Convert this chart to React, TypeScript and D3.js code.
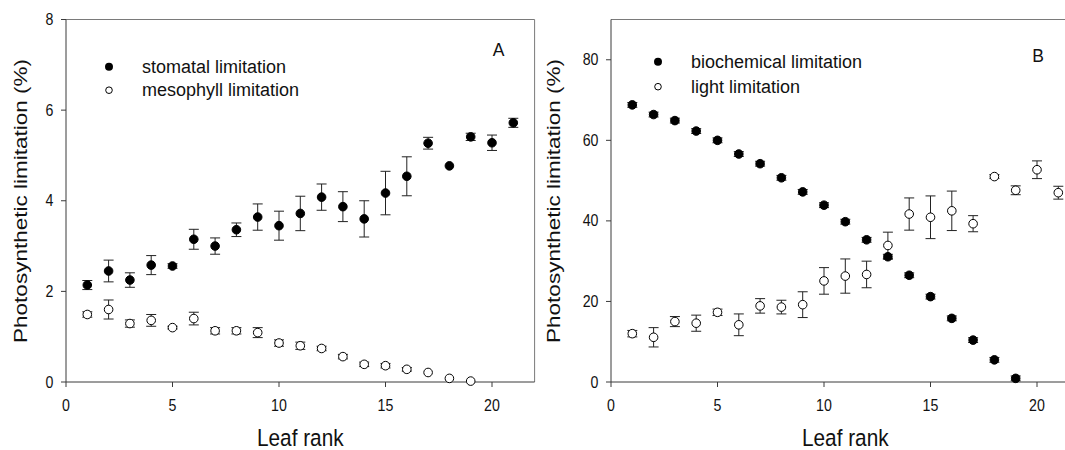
import React from "react";
import * as d3 from "d3";

// ---- Data ----
const ranksA = d3.range(1, 22);
const stomatal = [2.14, 2.45, 2.25, 2.58, 2.56, 3.15, 3.0, 3.36, 3.64, 3.45, 3.72, 4.08, 3.87, 3.6, 4.17, 4.54, 5.27, 4.77, 5.41, 5.28, 5.72];
const stomatalErr = [0.1, 0.24, 0.16, 0.21, 0.05, 0.22, 0.18, 0.15, 0.29, 0.32, 0.38, 0.29, 0.33, 0.4, 0.48, 0.43, 0.13, 0, 0.08, 0.17, 0.1];
const mesophyll = [1.49, 1.6, 1.29, 1.36, 1.2, 1.4, 1.13, 1.13, 1.09, 0.86, 0.8, 0.74, 0.56, 0.39, 0.36, 0.28, 0.21, 0.08, 0.02];
const mesophyllErr = [0.06, 0.21, 0.08, 0.13, 0.03, 0.14, 0.07, 0.07, 0.11, 0.07, 0.08, 0.05, 0.05, 0.05, 0.05, 0.04, 0, 0, 0];

const biochemical = [68.8, 66.4, 64.9, 62.3, 60.0, 56.6, 54.2, 50.7, 47.2, 43.9, 39.8, 35.3, 31.1, 26.5, 21.2, 15.8, 10.4, 5.5, 0.9];
const biochemicalErr = [0.6, 0.6, 0.6, 0.6, 0.6, 0.6, 0.6, 0.6, 0.6, 0.6, 0.6, 0.6, 0.6, 0.6, 0.6, 0.6, 0.6, 0.6, 0.6];
const light = [12.0, 11.1, 15.0, 14.6, 17.3, 14.2, 18.9, 18.6, 19.2, 25.1, 26.3, 26.7, 33.9, 41.7, 40.9, 42.5, 39.3, 51.0, 47.6, 52.7, 47.0];
const lightErr = [0.8, 2.4, 1.25, 2.0, 0.8, 2.7, 1.8, 1.7, 3.2, 3.3, 4.25, 3.3, 3.3, 4.0, 5.3, 4.9, 2.0, 0.5, 1.1, 2.2, 1.6];

const xTicks = [0, 5, 10, 15, 20];
const yTicksA = [0, 2, 4, 6, 8];
const yTicksB = [0, 20, 40, 60, 80];

const FONT = "Arial, 'Liberation Sans', sans-serif";
const AXIS = "#3a3a3a";
const FRAME = "#7a7a7a";

type Series = { values: number[]; errs: number[]; filled: boolean };

function Panel(props: {
  left: number;
  right: number;
  yMax: number;
  yTicks: number[];
  series: Series[];
  legend: string[];
  legendX: number;
  legendY: number;
  legendDy: number;
  letter: string;
  letterX: number;
  letterY: number;
  titleX: number;
}) {
  const top = 19.5;
  const bottom = 382;
  const x = d3.scaleLinear().domain([0, 22]).range([props.left, props.right]);
  const y = d3.scaleLinear().domain([0, props.yMax]).range([bottom, top]);
  const cap = 5;
  const r = 4.3;
  return (
    <g fontFamily={FONT}>
      {/* frame top & right */}
      <line x1={props.left} x2={props.right} y1={top} y2={top} stroke={FRAME} strokeWidth={1} />
      <line x1={props.right} x2={props.right} y1={top} y2={bottom} stroke={FRAME} strokeWidth={1} />
      {/* axes */}
      <line x1={props.left} x2={props.right} y1={bottom} y2={bottom} stroke={AXIS} strokeWidth={1} />
      <line x1={props.left} x2={props.left} y1={top} y2={bottom} stroke={AXIS} strokeWidth={1} />
      {xTicks.map((t) => (
        <g key={"xt" + t}>
          <line x1={x(t)} x2={x(t)} y1={bottom} y2={bottom + 5} stroke={AXIS} />
          <text
            transform={`translate(${x(t)},${411}) scale(1,1.1)`}
            textAnchor="middle"
            fontSize={14.2}
            fill="#111"
          >
            {t}
          </text>
        </g>
      ))}
      {props.yTicks.map((t) => (
        <g key={"yt" + t}>
          <line x1={props.left - 5} x2={props.left} y1={y(t)} y2={y(t)} stroke={AXIS} />
          <text
            transform={`translate(${props.left - 12.5},${y(t) + 5.5}) scale(1,1.1)`}
            textAnchor="end"
            fontSize={14.2}
            fill="#111"
          >
            {t}
          </text>
        </g>
      ))}
      <text
        transform={`translate(${(props.left + props.right) / 2},${446}) scale(1,1.12)`}
        textAnchor="middle"
        fontSize={20.8}
        fill="#111"
      >
        Leaf rank
      </text>
      <text
        transform={`translate(${props.titleX},${201}) rotate(-90) scale(1,0.85)`}
        textAnchor="middle"
        fontSize={22.5}
        fill="#111"
      >
        Photosynthetic limitation (%)
      </text>
      {/* error bars */}
      {props.series.map((s, si) =>
        s.values.map((v, i) => {
          const e = s.errs[i];
          if (!e) return null;
          const cx = x(i + 1);
          return (
            <g key={`e${si}-${i}`} stroke="#222" strokeWidth={1}>
              <line x1={cx} x2={cx} y1={y(v + e)} y2={y(v - e)} />
              <line x1={cx - cap} x2={cx + cap} y1={y(v + e)} y2={y(v + e)} />
              <line x1={cx - cap} x2={cx + cap} y1={y(v - e)} y2={y(v - e)} />
            </g>
          );
        })
      )}
      {/* markers */}
      {props.series.map((s, si) =>
        s.values.map((v, i) => (
          <circle
            key={`m${si}-${i}`}
            cx={x(i + 1)}
            cy={y(v)}
            r={r}
            fill={s.filled ? "#000" : "#fff"}
            stroke="#000"
            strokeWidth={1}
          />
        ))
      )}
      {/* legend */}
      <circle cx={props.legendX} cy={props.legendY} r={4} fill="#000" />
      <circle cx={props.legendX} cy={props.legendY + props.legendDy} r={3.3} fill="#fff" stroke="#000" strokeWidth={1} />
      <text x={props.legendX + 33} y={props.legendY + 6.2} fontSize={18} fill="#111">
        {props.legend[0]}
      </text>
      <text x={props.legendX + 33} y={props.legendY + props.legendDy + 6.2} fontSize={18} fill="#111">
        {props.legend[1]}
      </text>
      <text x={props.letterX} y={props.letterY} textAnchor="middle" fontSize={17.5} fill="#111">
        {props.letter}
      </text>
    </g>
  );
}

export default function App() {
  return (
    <svg
      width={1065}
      height={450}
      style={{ position: "absolute", left: 0, top: 0, background: "#fff" }}
    >
      <rect width={1065} height={450} fill="#fff" />
      <Panel
        left={66}
        right={534.6}
        yMax={8}
        yTicks={yTicksA}
        series={[
          { values: stomatal, errs: stomatalErr, filled: true },
          { values: mesophyll, errs: mesophyllErr, filled: false },
        ]}
        legend={["stomatal limitation", "mesophyll limitation"]}
        legendX={109}
        legendY={66.7}
        legendDy={23.5}
        letter="A"
        letterX={498.5}
        letterY={56}
        titleX={27}
      />
      <Panel
        left={611}
        right={1079.6}
        yMax={90}
        yTicks={yTicksB}
        series={[
          { values: biochemical, errs: biochemicalErr, filled: true },
          { values: light, errs: lightErr, filled: false },
        ]}
        legend={["biochemical limitation", "light limitation"]}
        legendX={658}
        legendY={61.7}
        legendDy={25}
        letter="B"
        letterX={1038}
        letterY={62}
        titleX={560}
      />
    </svg>
  );
}
